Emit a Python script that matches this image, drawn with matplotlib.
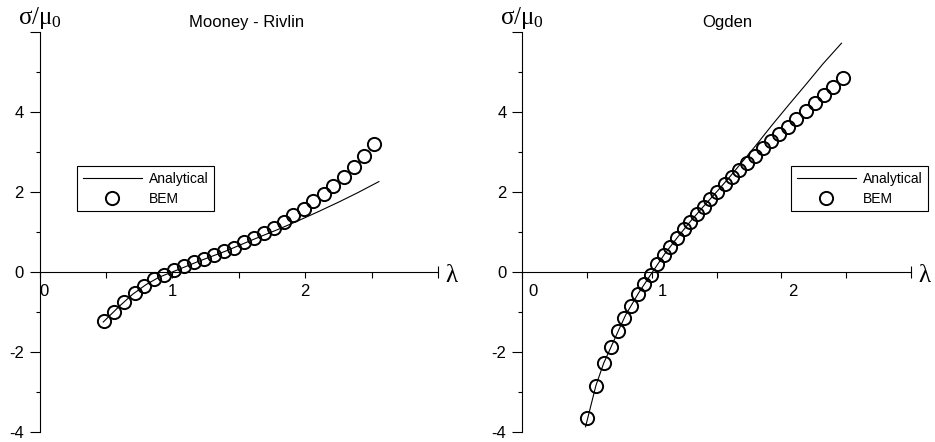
import matplotlib
matplotlib.use("Agg")
import matplotlib.pyplot as plt
import matplotlib.transforms as mtransforms

plt.rcParams['font.family'] = 'Liberation Sans'
plt.rcParams['mathtext.fontset'] = 'custom'
plt.rcParams['mathtext.rm'] = 'Liberation Serif'
plt.rcParams['mathtext.it'] = 'Liberation Serif'
plt.rcParams['mathtext.bf'] = 'Liberation Serif:bold'

# Mooney - Rivlin (left)
mr_bem_lam = [0.485, 0.563, 0.638, 0.716, 0.79, 0.863, 0.938, 1.01, 1.087, 1.16,
              1.24, 1.31, 1.39, 1.465, 1.54, 1.615, 1.69, 1.765, 1.84, 1.91,
              1.99, 2.06, 2.14, 2.21, 2.29, 2.365, 2.445, 2.52]
mr_bem_sig = [-1.22, -1.0, -0.75, -0.53, -0.35, -0.18, -0.08, 0.04, 0.14, 0.25,
              0.33, 0.42, 0.52, 0.61, 0.74, 0.84, 0.97, 1.11, 1.26, 1.42,
              1.58, 1.77, 1.94, 2.16, 2.38, 2.63, 2.91, 3.2]
mr_an_lam = [0.48, 0.6, 0.7, 0.8, 0.9, 1.0, 1.2, 1.4, 1.6, 1.8, 1.96, 2.1, 2.26, 2.4, 2.555]
mr_an_sig = [-1.25, -0.86, -0.56, -0.32, -0.13, 0.0, 0.27, 0.52, 0.8, 1.07, 1.3, 1.51, 1.76, 1.99, 2.26]

# Ogden (right)
og_bem_lam = [0.505, 0.569, 0.631, 0.685, 0.738, 0.787, 0.838, 0.892, 0.941, 0.992,
              1.041, 1.092, 1.144, 1.195, 1.246, 1.297, 1.349, 1.4, 1.451, 1.503,
              1.565, 1.62, 1.677, 1.733, 1.795, 1.859, 1.92, 1.985, 2.049, 2.115,
              2.187, 2.256, 2.328, 2.4, 2.474]
og_bem_sig = [-3.64, -2.84, -2.28, -1.87, -1.48, -1.14, -0.84, -0.56, -0.30, -0.08,
              0.19, 0.43, 0.63, 0.85, 1.07, 1.26, 1.44, 1.63, 1.83, 2.01,
              2.19, 2.37, 2.54, 2.73, 2.91, 3.09, 3.27, 3.45, 3.63, 3.83,
              4.03, 4.23, 4.43, 4.63, 4.86]
og_an_lam = [0.49, 0.57, 0.63, 0.69, 0.75, 0.8, 0.9, 1.0, 1.1, 1.2, 1.3, 1.4, 1.5,
             1.6, 1.7, 1.8, 1.93, 2.06, 2.19, 2.32, 2.464]
og_an_sig = [-3.87, -2.84, -2.28, -1.85, -1.42, -1.07, -0.52, -0.03, 0.45, 0.87,
             1.27, 1.64, 2.0, 2.37, 2.76, 3.15, 3.68, 4.19, 4.69, 5.2, 5.72]

W, H = 935, 442
fig = plt.figure(figsize=(W / 100, H / 100), dpi=100)


def px_axes(x0, x1, y0, y1):
    return fig.add_axes([x0 / W, 1 - y1 / H, (x1 - x0) / W, (y1 - y0) / H])


def draw_panel(ax, an_lam, an_sig, bem_lam, bem_sig, title, title_x, leg_xy, label_shifts):
    ax.plot(an_lam, an_sig, color='black', lw=0.8, label='Analytical', clip_on=False)
    ax.plot(bem_lam, bem_sig, ls='none', marker='o', ms=9.5, mfc='none', mec='black',
            mew=1.4, label='BEM', clip_on=False)

    ax.set_xlim(0, 3)
    ax.set_ylim(-4, 6)
    ax.spines['top'].set_visible(False)
    ax.spines['right'].set_visible(False)
    ax.spines['bottom'].set_position(('data', 0))
    ax.spines['bottom'].set_bounds(0, 3)
    for s in ['bottom', 'left']:
        ax.spines[s].set_linewidth(0.8)

    ax.set_xticks([0, 1, 2, 3])
    ax.set_xticklabels(['0', '1', '2', ''])
    ax.set_xticks([0.5, 1.5, 2.5], minor=True)
    ax.set_yticks([-4, -2, 0, 2, 4, 6])
    ax.set_yticklabels(['-4', '-2', '0', '2', '4', ''])
    ax.set_yticks([-3, -1, 1, 3, 5], minor=True)
    ax.tick_params(axis='x', which='both', direction='out', length=4.5, width=0.8,
                   pad=4.5, labelsize=12)
    ax.tick_params(axis='y', which='major', direction='out', length=7.2, width=0.8,
                   pad=4, labelsize=12)
    ax.tick_params(axis='y', which='minor', direction='out', length=3, width=0.8)

    end_tick = ax.xaxis.get_major_ticks()[3]
    end_tick.tick1line.set_marker('|')
    end_tick.tick1line.set_markersize(9)

    for lab, dx in zip(ax.get_xticklabels(), label_shifts):
        off = mtransforms.ScaledTranslation(dx / 100, 0, fig.dpi_scale_trans)
        lab.set_transform(lab.get_transform() + off)

    ax.text(title_x, 1.0225, title, transform=ax.transAxes, ha='center', va='center',
            fontsize=12)
    ax.text(0, 1.035, r'$\sigma/\mu_0$', transform=ax.transAxes, ha='center',
            va='center', fontsize=18)
    ax.annotate('λ', xy=(3, 0), xycoords='data', xytext=(7, -4),
                textcoords='offset pixels', ha='left', va='center',
                family='Liberation Serif', fontsize=18)

    leg = ax.legend(loc='upper left', bbox_to_anchor=(leg_xy[0] / W, 1 - leg_xy[1] / H),
                    bbox_transform=fig.transFigure, frameon=True, fancybox=False,
                    edgecolor='black', framealpha=1, fontsize=10, handlelength=4.25,
                    handletextpad=0.5, borderpad=0.4, labelspacing=0.45,
                    borderaxespad=0)
    leg.get_frame().set_linewidth(0.8)


ax1 = px_axes(39.5, 438, 32, 432)
draw_panel(ax1, mr_an_lam, mr_an_sig, mr_bem_lam, mr_bem_sig, 'Mooney - Rivlin', 0.52,
           (77, 166), [4, 0, 0, 0])

ax2 = px_axes(522, 911, 32, 432)
draw_panel(ax2, og_an_lam, og_an_sig, og_bem_lam, og_bem_sig, 'Ogden', 0.527,
           (791, 166), [11, 11, 11, 0])

fig.savefig('out.png', dpi=100)
